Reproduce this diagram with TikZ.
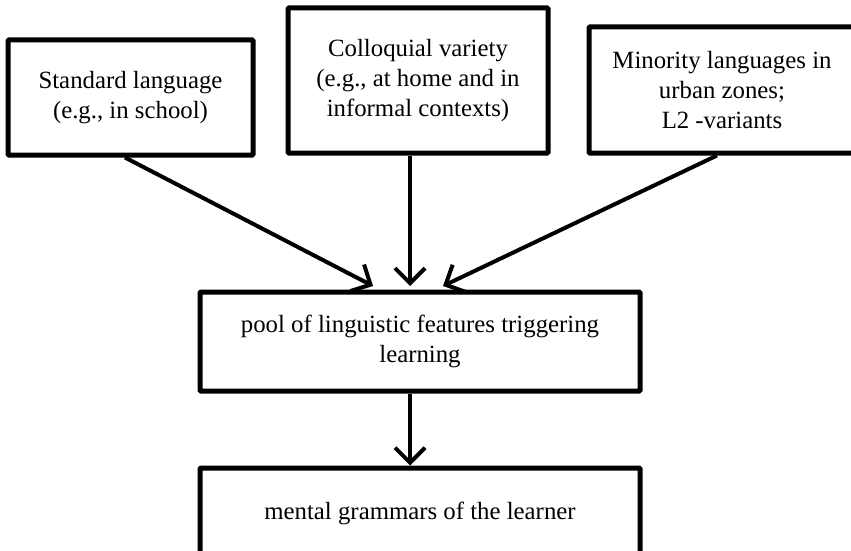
\documentclass[tikz,border=0pt]{standalone}
\usepackage{fontspec}
\setmainfont{Liberation Serif}
\usetikzlibrary{arrows.meta}
\begin{document}
\begin{tikzpicture}[x=1pt,y=-1pt,
  box/.style={draw=black, line width=5pt, rounded corners=1pt, fill=white,
    align=center, inner sep=0pt,
    font=\fontsize{24.8}{30}\selectfont},
  flow/.style={line width=4pt, -{Straight Barb[length=15pt,width=30pt,line width=4pt]}}]
  \useasboundingbox (0,0) rectangle (851,551);
  \clip (0,0) rectangle (851,551);

  % source boxes
  \node[box, minimum width=245pt, minimum height=115pt] (std) at (130.5,97.5)
    {Standard language\\(e.g., in school)};
  \node[box, minimum width=260pt, minimum height=145pt] (coll) at (418,80.5)
    {Colloquial variety\\(e.g., at home and in\\informal contexts)};
  \node[box, minimum width=266pt, minimum height=126pt] (min) at (722,90)
    {Minority languages in\\urban zones;\\L2 -variants};

  % pool and learner boxes
  \node[box, minimum width=440pt, minimum height=99pt] (pool) at (420,341.5)
    {pool of linguistic features triggering\\learning};
  \node[box, minimum width=440pt, minimum height=90pt] (gram) at (420,513)
    {mental grammars of the learner};

  % arrow targets on the pool box
  \coordinate (tl) at (373,286);
  \coordinate (tm) at (410,286);
  \coordinate (tr) at (443,286);

  \draw[flow] (std.south -| 125,0) -- (tl);
  \draw[flow] (coll.south -| 410,0) -- (tm);
  \draw[flow] (min.south -| 717,0) -- (tr);
  \draw[flow] (pool.south -| 410,0) -- (gram.north -| 410,0);
\end{tikzpicture}
\end{document}
